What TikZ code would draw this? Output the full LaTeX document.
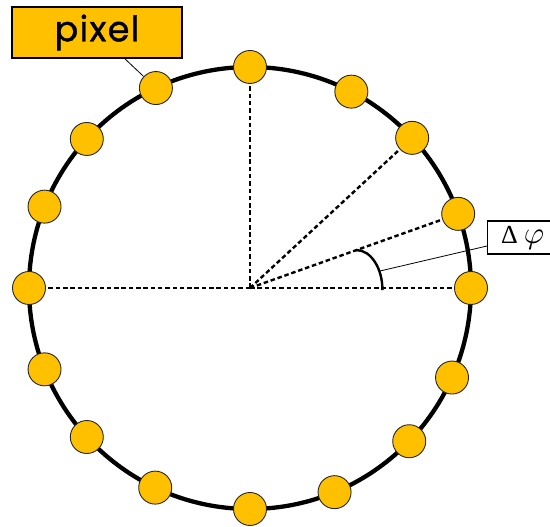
\documentclass[tikz,border=0pt]{standalone}
\usepackage{fontspec}
\usepackage{graphicx}
\usetikzlibrary{calc}
\newfontfamily\pixfont{Poppins}[FakeBold=1.2,LetterSpace=4]
\newfontfamily\serfont{Liberation Serif}
\definecolor{pix}{HTML}{FFC000}
\begin{document}
\begin{tikzpicture}[x=1pt,y=1pt,
  pixdot/.style={circle,fill=pix,draw=black!85,line width=0.9pt,minimum size=33pt,inner sep=0pt},
  ray/.style={line width=2.4pt,dash pattern=on 4.5pt off 2.8pt},
  leader/.style={line width=0.8pt},
  labelbox/.style={draw=black,line width=1.1pt,inner sep=0pt}]
\useasboundingbox (0,0) rectangle (550,527);
\coordinate (O) at (250,239);
\draw[line width=4.3pt] (O) circle[radius=221];
\foreach \n/\a in {0/90,1/62.7,2/42.8,3/19.6,4/0,5/-23.9,6/-43.9,7/-67.5,8/-90,9/-115.4,10/-137.6,11/-158.4,12/180,13/158.4,14/137.6,15/115.2}
  \node[pixdot] (p\n) at ($(O)+(\a:221)$) {};
\draw[ray] (O) -- (p0);
\draw[ray] (O) -- (p2);
\draw[ray] (O) -- (p3);
\draw[ray] (O) -- (p4);
\draw[ray] (O) -- (p12);
\coordinate (arcstart) at ($(O)!113pt!(p3)$);
\draw[line width=2.4pt] (arcstart) arc[start angle=90,end angle=0,x radius=26,y radius=40];
\coordinate (arcpt) at (380,256);
\node[labelbox,fill=pix,minimum width=170pt,minimum height=51pt] (pixbox) at (97,494.5)
  {\fontsize{35}{40}\selectfont\pixfont pixel};
\node[labelbox,fill=white,minimum width=70pt,minimum height=33pt,anchor=west] (dphi) at (487,289.5)
  {\scalebox{2.6}{\serfont Δ}\hspace{6pt}\scalebox{3.1}{$\varphi$}};
\draw[leader] (pixbox) -- (p15);
\draw[leader] (arcpt) -- ($(dphi.west)+(0,-8.5)$);
\end{tikzpicture}
\end{document}
